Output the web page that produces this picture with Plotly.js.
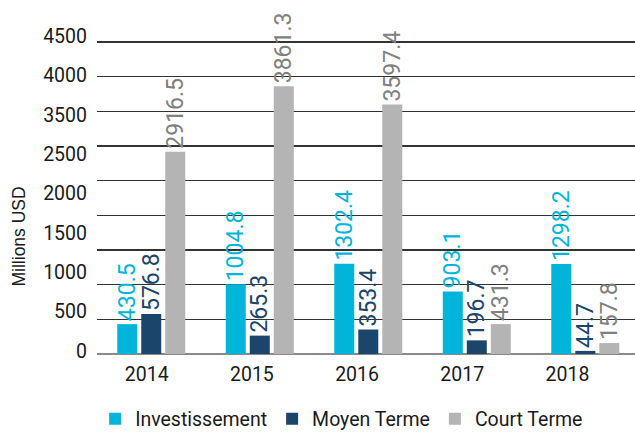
<!DOCTYPE html>
<html>
<head>
<meta charset="utf-8">
<script src="https://cdn.plot.ly/plotly-3.0.1.min.js"></script>
<style>html,body{margin:0;padding:0;background:#fff;}#chart{width:635px;height:432px;}</style>
</head>
<body>
<div id="chart"></div>
<script>
const years = ["2014", "2015", "2016", "2017", "2018"];
const investissement = [430.5, 1004.8, 1302.4, 903.1, 1298.2];
const moyenTerme = [576.8, 265.3, 353.4, 196.7, 44.7];
const courtTerme = [2916.5, 3861.3, 3597.4, 431.3, 157.8];
const seriesNames = ["Investissement", "Moyen Terme", "Court Terme"];
const yTickLabels = ["0", "500", "1000", "1500", "2000", "2500", "3500", "4000", "4500"];
const yTitle = "Millions USD";

const barColors = ["#00b5d9", "#1b456b", "#b3b4b3"];
const labelColors = ["#00b5d9", "#1b456b", "#808080"];
const seriesValues = [investissement, moyenTerme, courtTerme];

const traces = seriesValues.map((vals, i) => ({
  type: "bar",
  name: seriesNames[i],
  x: years,
  y: vals,
  marker: {color: barColors[i]},
  text: vals.map(v => v.toFixed(1)),
  textposition: "outside",
  textangle: -90,
  constraintext: "none",
  cliponaxis: false,
  textfont: {family: "Roboto", size: 23, color: labelColors[i]},
  hoverinfo: "none"
}));

// invisible trace to activate the label axes
traces.push({
  type: "scatter", x: years, y: years.map(() => 0), xaxis: "x2", yaxis: "y2", mode: "markers",
  marker: {opacity: 0}, showlegend: false, hoverinfo: "none"
});

const layout = {
  width: 635, height: 432,
  margin: {l: 97, r: 0, t: 30, b: 78},
  paper_bgcolor: "#ffffff", plot_bgcolor: "#ffffff",
  font: {family: "Roboto", color: "#1a1a1a"},
  barmode: "group",
  bargap: 0.336,
  bargroupgap: 0.167,
  showlegend: true,
  legend: {
    orientation: "h", xref: "container", yref: "container",
    x: 0.538, xanchor: "center", y: 0.03, yanchor: "middle",
    font: {family: "Roboto", size: 19.5, color: "#1a1a1a"},
    itemwidth: 30, traceorder: "normal"
  },
  xaxis: {
    type: "category", range: [-0.5, 4.458],
    showgrid: false, zeroline: false, showline: false, ticks: "",
    showticklabels: false
  },
  xaxis2: {
    type: "category", overlaying: "x", anchor: "y", side: "bottom",
    range: [-0.4724, 4.642],
    showgrid: false, zeroline: false, showline: false, ticks: "",
    tickfont: {family: "Roboto", size: 19.5, color: "#1a1a1a"},
    ticklabelstandoff: 6
  },
  yaxis: {
    range: [0, 4673], dtick: 500, tick0: 0,
    showticklabels: false, ticks: "",
    showgrid: true, gridcolor: "#333333", gridwidth: 1.4,
    zeroline: true, zerolinecolor: "#8a8a8a", zerolinewidth: 2,
    showline: false
  },
  yaxis2: {
    overlaying: "y", side: "left", anchor: "x",
    range: [-0.0748, 8.1495],
    tickmode: "array", tickvals: yTickLabels.map((_, i) => i), ticktext: yTickLabels,
    showgrid: false, zeroline: false, showline: false, ticks: "",
    tickfont: {family: "Roboto", size: 19.5, color: "#1a1a1a"},
    ticklabelstandoff: 9
  },
  annotations: [{
    text: yTitle, textangle: -90, showarrow: false,
    xref: "paper", yref: "paper",
    x: -(97 - 18.5) / 538, xanchor: "center",
    y: (354 - 237) / 324, yanchor: "middle",
    font: {family: "Liberation Sans", size: 17.5, color: "#1a1a1a"}
  }]
};

Plotly.newPlot("chart", traces, layout, {staticPlot: true, displayModeBar: false});
</script>
</body>
</html>
